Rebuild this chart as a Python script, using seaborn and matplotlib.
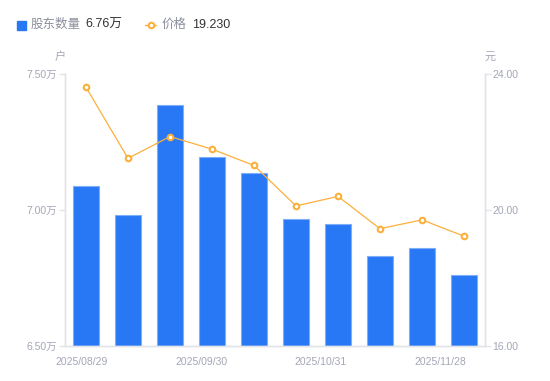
import numpy as np
import pandas as pd
import matplotlib
matplotlib.use("Agg")
import matplotlib.pyplot as plt
import seaborn as sns
from matplotlib.patches import Rectangle
from matplotlib.lines import Line2D

sns.set_theme(style="white")
plt.rcParams['font.family'] = ['Liberation Sans', 'Noto Sans CJK SC', 'DejaVu Sans']

# 数据
dates = ['2025/08/29', '2025/09/10', '2025/09/19', '2025/09/30', '2025/10/10',
         '2025/10/20', '2025/10/31', '2025/11/10', '2025/11/20', '2025/11/28']
holders = [7.088, 6.981, 7.387, 7.194, 7.136, 6.967, 6.949, 6.830, 6.859, 6.760]  # 万户
prices = [23.61, 21.52, 22.16, 21.79, 21.31, 20.12, 20.40, 19.45, 19.71, 19.23]  # 元
label_idx = [0, 3, 6, 9]

bar_color = '#2878f5'
line_color = '#fbb03b'
axis_color = '#e3e4ea'
tick_color = '#a3a6b6'

df = pd.DataFrame({'日期': dates, '股东数量': holders, '价格': prices})

fig = plt.figure(figsize=(5.5, 3.81), dpi=100)
ax = fig.add_axes([65 / 550, 35 / 381, 420 / 550, 272 / 381])

sns.barplot(data=df, x='日期', y='股东数量', color=bar_color, width=0.6,
            edgecolor='#7eaefa', linewidth=0.8, saturation=1, ax=ax)
ax.set_ylim(6.5, 7.5)
ax.set_xlim(-0.5, len(dates) - 0.5)
ax.set_yticks([6.5, 7.0, 7.5])
ax.set_yticklabels([f'{v:.2f}万' for v in [6.5, 7.0, 7.5]])
ax.set_xlabel('')
ax.set_ylabel('')

# x 轴标签位置（参照原图略偏左）
xpos = np.linspace(-0.1, 8.43, len(label_idx))
ax.set_xticks(xpos)
ax.set_xticklabels([dates[i] for i in label_idx])

ax2 = ax.twinx()
sns.lineplot(x=np.arange(len(prices)), y=prices, color=line_color, linewidth=0.9,
             marker='o', markersize=4, markerfacecolor='white',
             markeredgecolor=line_color, markeredgewidth=1.5, ax=ax2)
ax2.set_ylim(16, 24)
ax2.set_yticks([16, 20, 24])
ax2.set_yticklabels([f'{v:.2f}' for v in [16, 20, 24]])
ax2.set_ylabel('')

for a in (ax, ax2):
    for s in a.spines.values():
        s.set_color(axis_color)
        s.set_linewidth(1)
    a.spines['top'].set_visible(False)
    a.grid(False)

ax.tick_params(axis='y', left=True, length=4, width=1, color=axis_color,
               labelcolor=tick_color, labelsize=7.5, pad=1.5)
ax.tick_params(axis='x', bottom=False, labelcolor=tick_color, labelsize=7.5, pad=2)
ax2.tick_params(axis='y', right=True, length=4, width=1, color=axis_color,
                labelcolor=tick_color, labelsize=7.5, pad=1.5)

# 单位
fig.text(60 / 550, 1 - 57 / 381, '户', color=tick_color, fontsize=8, ha='center', va='center')
fig.text(490 / 550, 1 - 57 / 381, '元', color=tick_color, fontsize=8, ha='center', va='center')

# 图例
ly = 1 - 25 / 381
fig.patches.append(Rectangle((16.5 / 550, 1 - 29.5 / 381), 9 / 550, 9 / 381,
                             transform=fig.transFigure, color=bar_color, figure=fig))
fig.text(31 / 550, ly, '股东数量', color='#8c8f9c', fontsize=9, va='center')
fig.text(85 / 550, ly, f'{holders[-1]:.2f}万', color='#333333', fontsize=9, va='center')
fig.lines.append(Line2D([145 / 550, 156 / 550], [ly, ly], transform=fig.transFigure,
                        color=line_color, linewidth=1, figure=fig))
fig.lines.append(Line2D([150.5 / 550], [ly], transform=fig.transFigure, color=line_color,
                        marker='o', markersize=4, markerfacecolor='white',
                        markeredgewidth=1.5, figure=fig))
fig.text(162 / 550, ly, '价格', color='#8c8f9c', fontsize=9, va='center')
fig.text(192 / 550, ly, f'{prices[-1]:.3f}', color='#333333', fontsize=9, va='center')

fig.savefig('out.png', dpi=100)
